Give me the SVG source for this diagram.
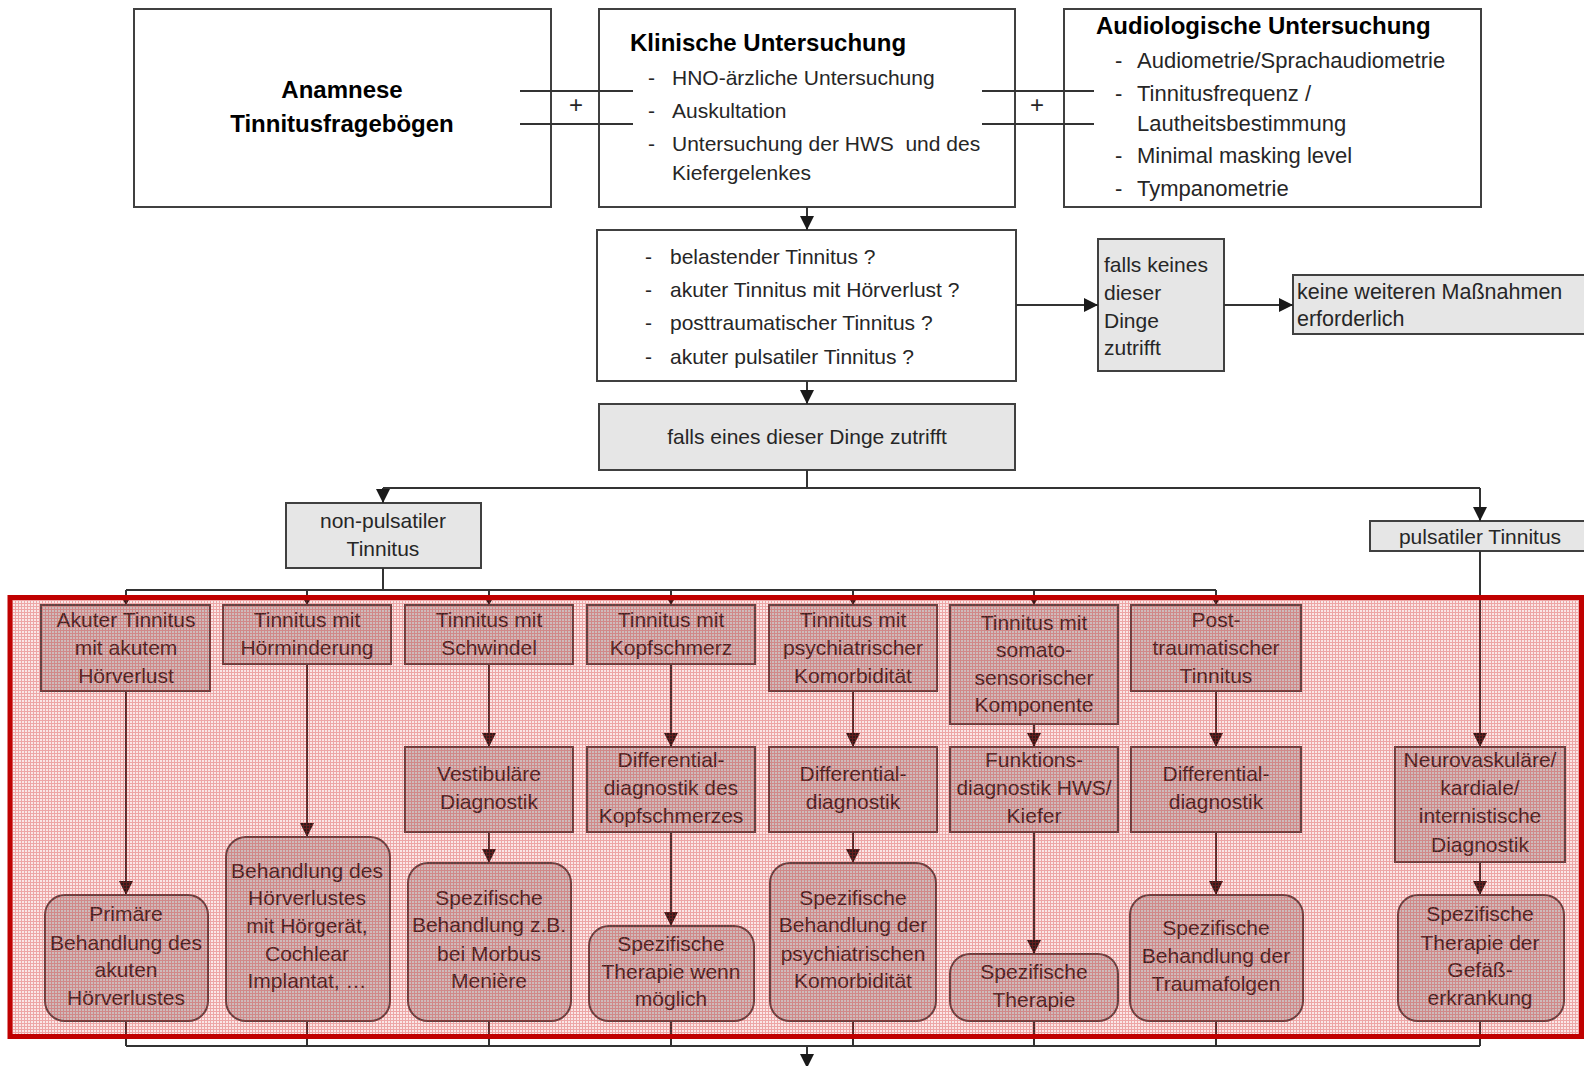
<svg xmlns="http://www.w3.org/2000/svg" width="1584" height="1066" viewBox="0 0 1584 1066">
<style>
.box{fill:#fff;stroke:#404040;stroke-width:2}
.gray{fill:#e6e6e6;stroke:#404040;stroke-width:2}
.inner{fill:#cecece;stroke:#4a4a4a;stroke-width:2}
.t{font-family:"Liberation Sans",Arial,sans-serif;font-size:21px;fill:#262626}
.c{text-anchor:middle}
.b{font-weight:bold;font-size:24px;fill:#000}
.ln{stroke:#333;stroke-width:2;fill:none}
.arr{marker-end:url(#ah)}
.arrs{marker-end:url(#ahs)}
</style>
<defs>
<marker id="ah" markerUnits="userSpaceOnUse" markerWidth="14" markerHeight="14" viewBox="0 0 14 14" refX="14" refY="7" orient="auto"><path d="M0,0 L14,7 L0,14 Z" fill="#1a1a1a"/></marker>
<marker id="ahs" markerUnits="userSpaceOnUse" markerWidth="10" markerHeight="12" viewBox="0 0 10 12" refX="10" refY="6" orient="auto"><path d="M0,0 L10,6 L0,12 Z" fill="#1a1a1a"/></marker>
<pattern id="hatch" width="3" height="3" patternUnits="userSpaceOnUse">
<rect width="3" height="3" fill="#d42020" fill-opacity="0.11"/>
<path d="M0 0H3V1H1V3H0Z" fill="#d42020" fill-opacity="0.33"/>
</pattern>
</defs>
<rect width="1584" height="1066" fill="#fff"/>

<g id="anamnese">
<rect class="box" x="134" y="9" width="417" height="198" style="fill:none"/>
<text class="t b c" x="342" y="98">Anamnese</text>
<text class="t b c" x="342" y="132">Tinnitusfragebögen</text>
</g>
<g id="plus1"><text class="t c" x="576" y="113" style="font-size:24px">+</text></g>
<g id="klinisch">
<rect class="box" x="599" y="9" width="416" height="198" style="fill:none"/>
<text class="t b" x="630" y="51">Klinische Untersuchung</text>
<text class="t" x="648" y="85">-</text><text class="t" x="672" y="85">HNO-ärzliche Untersuchung</text>
<text class="t" x="648" y="118">-</text><text class="t" x="672" y="118">Auskultation</text>
<text class="t" x="648" y="151">-</text><text class="t" x="672" y="151" xml:space="preserve">Untersuchung der HWS  und des</text>
<text class="t" x="672" y="180">Kiefergelenkes</text>
</g>
<g id="plus2"><text class="t c" x="1037" y="113" style="font-size:24px">+</text></g>
<g id="audio">
<rect class="box" x="1064" y="9" width="417" height="198" style="fill:none"/>
<text class="t b" x="1096" y="34">Audiologische Untersuchung</text>
<text class="t" x="1115" y="68" style="font-size:22px">-</text><text class="t" x="1137" y="68" style="font-size:22px">Audiometrie/Sprachaudiometrie</text>
<text class="t" x="1115" y="101" style="font-size:22px">-</text><text class="t" x="1137" y="101" style="font-size:22px">Tinnitusfrequenz /</text>
<text class="t" x="1137" y="131" style="font-size:22px">Lautheitsbestimmung</text>
<text class="t" x="1115" y="163" style="font-size:22px">-</text><text class="t" x="1137" y="163" style="font-size:22px">Minimal masking level</text>
<text class="t" x="1115" y="196" style="font-size:22px">-</text><text class="t" x="1137" y="196" style="font-size:22px">Tympanometrie</text>
</g>

<g id="fragen">
<rect class="box" x="597" y="230" width="419" height="151"/>
<text class="t" x="645" y="264">-</text><text class="t" x="670" y="264">belastender Tinnitus ?</text>
<text class="t" x="645" y="297">-</text><text class="t" x="670" y="297">akuter Tinnitus mit Hörverlust ?</text>
<text class="t" x="645" y="330">-</text><text class="t" x="670" y="330">posttraumatischer Tinnitus ?</text>
<text class="t" x="645" y="364">-</text><text class="t" x="670" y="364">akuter pulsatiler Tinnitus ?</text>
</g>
<g id="keines">
<rect class="gray" x="1098" y="239" width="126" height="132"/>
<text class="t" x="1104" y="272">falls keines</text>
<text class="t" x="1104" y="300">dieser</text>
<text class="t" x="1104" y="328">Dinge</text>
<text class="t" x="1104" y="355">zutrifft</text>
</g>
<g id="keine-massnahmen">
<rect class="gray" x="1293" y="275" width="300" height="59"/>
<text class="t" x="1297" y="299" style="font-size:21.5px">keine weiteren Maßnahmen</text>
<text class="t" x="1297" y="326" style="font-size:21.5px">erforderlich</text>
</g>
<g id="eines">
<rect class="gray" x="599" y="404" width="416" height="66"/>
<text class="t c" x="807" y="444">falls eines dieser Dinge zutrifft</text>
</g>
<g id="nonpuls">
<rect class="gray" x="286" y="503" width="195" height="65"/>
<text class="t c" x="383" y="528">non-pulsatiler</text>
<text class="t c" x="383" y="556">Tinnitus</text>
</g>
<g id="puls">
<rect class="gray" x="1370" y="521" width="224" height="30"/>
<text class="t c" x="1480" y="544">pulsatiler Tinnitus</text>
</g>

<g id="connectors">
<path class="ln" d="M520 91H633M520 124H633M982 91H1094M982 124H1094"/>
<path class="ln arr" d="M807 207V230"/>
<path class="ln arr" d="M1016 305H1098"/>
<path class="ln arr" d="M1224 305H1293"/>
<path class="ln arr" d="M807 381V404"/>
<path class="ln" d="M807 470V488M383 488H1480"/>
<path class="ln arr" d="M383 488V503"/>
<path class="ln arr" d="M1480 488V521"/>
<path class="ln" d="M383 568V590M126 590H1216"/>
<path class="ln arrs" d="M126 590V605"/>
<path class="ln arrs" d="M307 590V605"/>
<path class="ln arrs" d="M489 590V605"/>
<path class="ln arrs" d="M671 590V605"/>
<path class="ln arrs" d="M853 590V605"/>
<path class="ln arrs" d="M1034 590V605"/>
<path class="ln arrs" d="M1216 590V605"/>
<path class="ln arr" d="M126 691V895"/>
<path class="ln arr" d="M307 664V837"/>
<path class="ln arr" d="M489 664V747"/>
<path class="ln arr" d="M489 832V863"/>
<path class="ln arr" d="M671 664V747"/>
<path class="ln arr" d="M671 832V926"/>
<path class="ln arr" d="M853 691V747"/>
<path class="ln arr" d="M853 832V863"/>
<path class="ln arr" d="M1034 724V747"/>
<path class="ln arr" d="M1034 832V954"/>
<path class="ln arr" d="M1216 691V747"/>
<path class="ln arr" d="M1216 832V895"/>
<path class="ln arr" d="M1480 551V747"/>
<path class="ln arr" d="M1480 862V895"/>
<path class="ln" d="M126 1021V1046M307 1021V1046M489 1021V1046M671 1021V1046M853 1021V1046M1034 1021V1046M1216 1021V1046M1480 1021V1046M126 1046H1480"/>
<path class="ln arr" d="M807 1046V1068"/>
</g>

<g id="k1"><rect class="inner" x="41" y="605" width="169" height="86"/>
<text class="t c" x="126" y="627">Akuter Tinnitus</text><text class="t c" x="126" y="655">mit akutem</text><text class="t c" x="126" y="683">Hörverlust</text></g>
<g id="k2"><rect class="inner" x="223" y="605" width="168" height="59"/>
<text class="t c" x="307" y="627">Tinnitus mit</text><text class="t c" x="307" y="655">Hörminderung</text></g>
<g id="k3"><rect class="inner" x="405" y="605" width="168" height="59"/>
<text class="t c" x="489" y="627">Tinnitus mit</text><text class="t c" x="489" y="655">Schwindel</text></g>
<g id="k4"><rect class="inner" x="587" y="605" width="168" height="59"/>
<text class="t c" x="671" y="627">Tinnitus mit</text><text class="t c" x="671" y="655">Kopfschmerz</text></g>
<g id="k5"><rect class="inner" x="769" y="605" width="168" height="86"/>
<text class="t c" x="853" y="627">Tinnitus mit</text><text class="t c" x="853" y="655">psychiatrischer</text><text class="t c" x="853" y="683">Komorbidität</text></g>
<g id="k6"><rect class="inner" x="950" y="605" width="168" height="119"/>
<text class="t c" x="1034" y="630">Tinnitus mit</text><text class="t c" x="1034" y="657">somato-</text><text class="t c" x="1034" y="685">sensorischer</text><text class="t c" x="1034" y="712">Komponente</text></g>
<g id="k7"><rect class="inner" x="1131" y="605" width="170" height="86"/>
<text class="t c" x="1216" y="627">Post-</text><text class="t c" x="1216" y="655">traumatischer</text><text class="t c" x="1216" y="683">Tinnitus</text></g>

<g id="d3"><rect class="inner" x="405" y="747" width="168" height="85"/>
<text class="t c" x="489" y="781">Vestibuläre</text><text class="t c" x="489" y="809">Diagnostik</text></g>
<g id="d4"><rect class="inner" x="587" y="747" width="168" height="85"/>
<text class="t c" x="671" y="767">Differential-</text><text class="t c" x="671" y="795">diagnostik des</text><text class="t c" x="671" y="823">Kopfschmerzes</text></g>
<g id="d5"><rect class="inner" x="769" y="747" width="168" height="85"/>
<text class="t c" x="853" y="781">Differential-</text><text class="t c" x="853" y="809">diagnostik</text></g>
<g id="d6"><rect class="inner" x="950" y="747" width="168" height="85"/>
<text class="t c" x="1034" y="767">Funktions-</text><text class="t c" x="1034" y="795">diagnostik HWS/</text><text class="t c" x="1034" y="823">Kiefer</text></g>
<g id="d7"><rect class="inner" x="1131" y="747" width="170" height="85"/>
<text class="t c" x="1216" y="781">Differential-</text><text class="t c" x="1216" y="809">diagnostik</text></g>
<g id="dp"><rect class="inner" x="1395" y="747" width="170" height="115"/>
<text class="t c" x="1480" y="767">Neurovaskuläre/</text><text class="t c" x="1480" y="795">kardiale/</text><text class="t c" x="1480" y="823">internistische</text><text class="t c" x="1480" y="852">Diagnostik</text></g>

<g id="b1"><rect class="inner" x="45" y="895" width="163" height="126" rx="20"/>
<text class="t c" x="126" y="921">Primäre</text><text class="t c" x="126" y="950">Behandlung des</text><text class="t c" x="126" y="977">akuten</text><text class="t c" x="126" y="1005">Hörverlustes</text></g>
<g id="b2"><rect class="inner" x="226" y="837" width="164" height="184" rx="20"/>
<text class="t c" x="307" y="878">Behandlung des</text><text class="t c" x="307" y="905">Hörverlustes</text><text class="t c" x="307" y="933">mit Hörgerät,</text><text class="t c" x="307" y="961">Cochlear</text><text class="t c" x="307" y="988">Implantat, …</text></g>
<g id="b3"><rect class="inner" x="408" y="863" width="163" height="158" rx="20"/>
<text class="t c" x="489" y="905">Spezifische</text><text class="t c" x="489" y="932">Behandlung z.B.</text><text class="t c" x="489" y="961">bei Morbus</text><text class="t c" x="489" y="988">Menière</text></g>
<g id="b4"><rect class="inner" x="589" y="926" width="165" height="95" rx="20"/>
<text class="t c" x="671" y="951">Spezifische</text><text class="t c" x="671" y="979">Therapie wenn</text><text class="t c" x="671" y="1006">möglich</text></g>
<g id="b5"><rect class="inner" x="770" y="863" width="166" height="158" rx="20"/>
<text class="t c" x="853" y="905">Spezifische</text><text class="t c" x="853" y="932">Behandlung der</text><text class="t c" x="853" y="961">psychiatrischen</text><text class="t c" x="853" y="988">Komorbidität</text></g>
<g id="b6"><rect class="inner" x="950" y="954" width="168" height="67" rx="20"/>
<text class="t c" x="1034" y="979">Spezifische</text><text class="t c" x="1034" y="1007">Therapie</text></g>
<g id="b7"><rect class="inner" x="1130" y="895" width="173" height="126" rx="20"/>
<text class="t c" x="1216" y="935">Spezifische</text><text class="t c" x="1216" y="963">Behandlung der</text><text class="t c" x="1216" y="991">Traumafolgen</text></g>
<g id="bp"><rect class="inner" x="1398" y="895" width="166" height="126" rx="20"/>
<text class="t c" x="1480" y="921">Spezifische</text><text class="t c" x="1480" y="950">Therapie der</text><text class="t c" x="1480" y="977">Gefäß-</text><text class="t c" x="1480" y="1005">erkrankung</text></g>

<g id="highlight">
<rect x="10" y="597.5" width="1571.5" height="439" fill="url(#hatch)" stroke="#c00000" stroke-width="5"/>
</g>
</svg>
